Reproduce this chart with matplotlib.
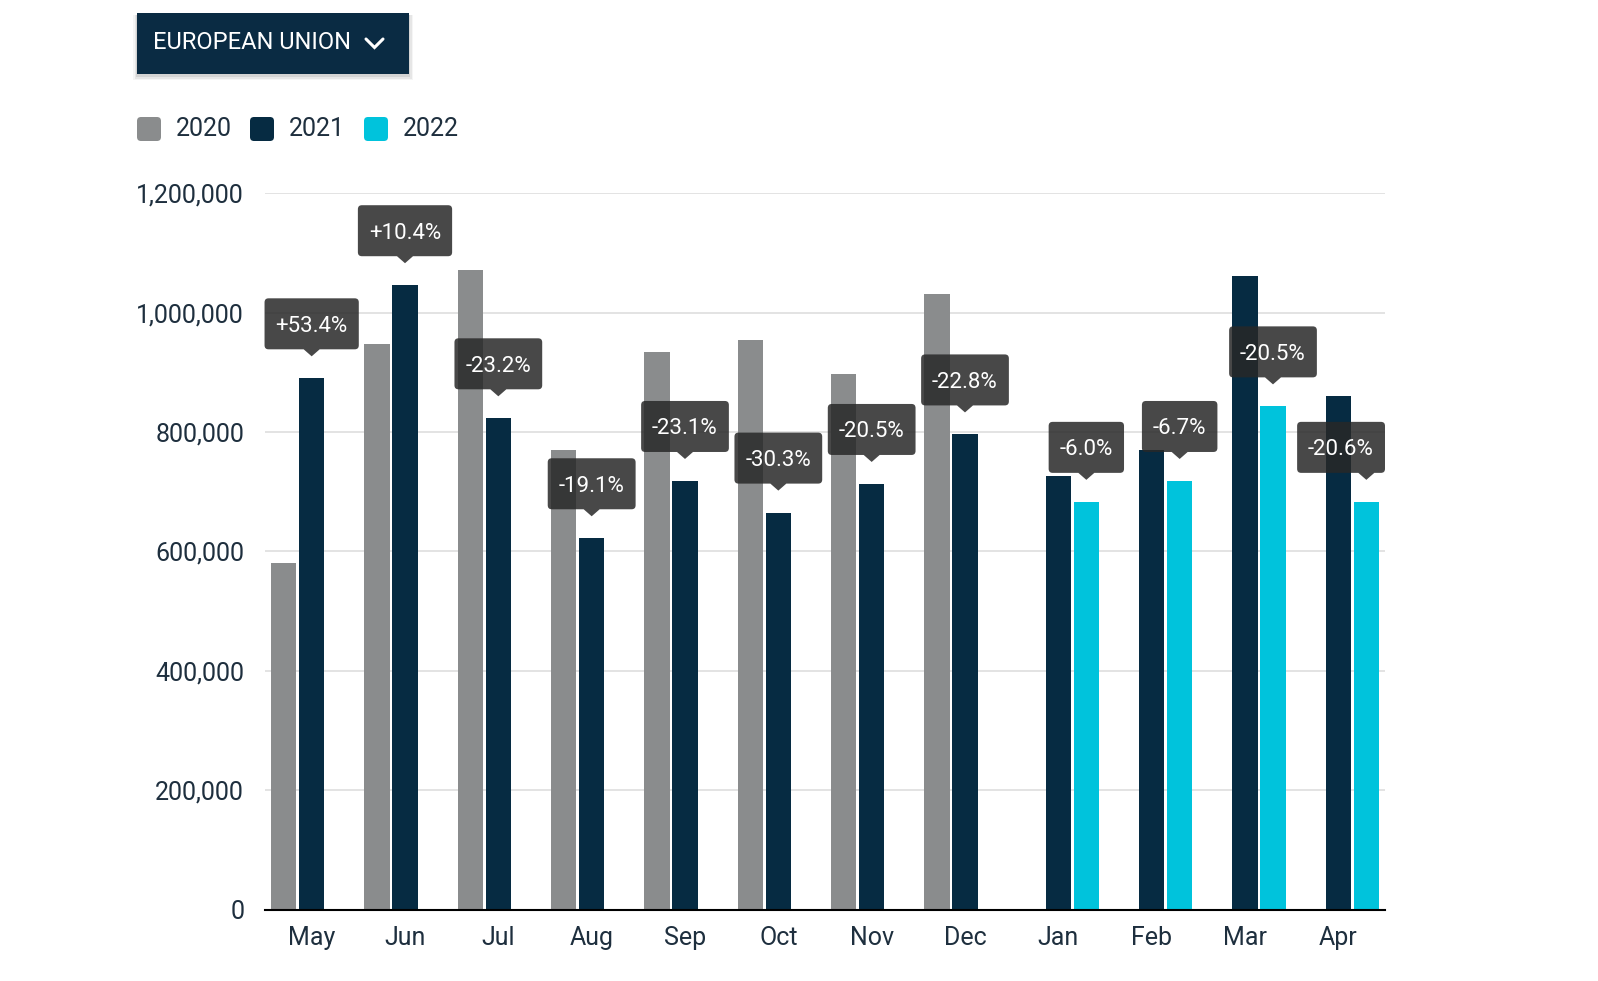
import numpy as np
import matplotlib.pyplot as plt
import matplotlib.transforms as mtransforms
from matplotlib.patches import FancyBboxPatch, PathPatch
from matplotlib.path import Path
from matplotlib.ticker import FuncFormatter

plt.rcParams['font.family'] = ['Roboto', 'DejaVu Sans']

months = ['May', 'Jun', 'Jul', 'Aug', 'Sep', 'Oct', 'Nov', 'Dec',
          'Jan', 'Feb', 'Mar', 'Apr']
years = ['2020', '2021', '2022']
nan = np.nan
sales_2020 = [580000, 948000, 1071000, 770000, 934000, 954000, 897000, 1031000,
              nan, nan, nan, nan]
sales_2021 = [890000, 1046000, 823000, 622000, 718000, 665000, 713000, 796000,
              727000, 770000, 1061000, 860000]
sales_2022 = [nan, nan, nan, nan, nan, nan, nan, nan,
              683000, 718000, 843000, 683000]
changes = ['+53.4%', '+10.4%', '-23.2%', '-19.1%', '-23.1%', '-30.3%',
           '-20.5%', '-22.8%', '-6.0%', '-6.7%', '-20.5%', '-20.6%']
region = 'EUROPEAN UNION'

colors = ['#8a8c8d', '#062b42', '#00c3dc']
text_col = '#1e2f3e'

fig = plt.figure(figsize=(15.98, 9.81), dpi=100)
ax = fig.add_axes([265 / 1598, 71.5 / 981, 1120 / 1598, 716.2 / 981])

x = np.arange(len(months))
off = 0.30
width = 0.268
series = [sales_2020, sales_2021, sales_2022]
for k, vals in enumerate(series):
    v = np.array(vals, dtype=float)
    m = ~np.isnan(v)
    ax.bar(x[m] + (k - 1) * off, v[m], width, color=colors[k], zorder=2)

ax.set_xlim(-0.5, len(months) - 0.5)
ax.set_ylim(0, 1200000)
ax.set_yticks(np.arange(0, 1200001, 200000))
ax.yaxis.set_major_formatter(FuncFormatter(lambda v, p: f'{v:,.0f}'))
ax.set_xticks(x)
ax.set_xticklabels(months)
ax.tick_params(axis='both', length=0, labelsize=18, labelcolor=text_col)
ax.tick_params(axis='x', pad=12)
ax.tick_params(axis='y', pad=15)
ax.yaxis.grid(True, color='#dedede', lw=1.2)
ax.set_axisbelow(True)
for s in ['top', 'left', 'right']:
    ax.spines[s].set_visible(False)
ax.spines['bottom'].set_color('black')
ax.spines['bottom'].set_linewidth(1.5)
ax.spines['bottom'].set_zorder(3)


def tooltip_path(x0, y0, w, h, r, cx, tw, th):
    # rounded box with a small pointer under it (display pixels, y up)
    x1, y1 = x0 + w, y0 + h
    verts = [(x0 + r, y0), (cx - tw / 2, y0), (cx, y0 - th), (cx + tw / 2, y0),
             (x1 - r, y0), (x1, y0), (x1, y0 + r), (x1, y1 - r), (x1, y1),
             (x1 - r, y1), (x0 + r, y1), (x0, y1), (x0, y1 - r), (x0, y0 + r),
             (x0, y0), (x0 + r, y0), (x0 + r, y0)]
    codes = [Path.MOVETO, Path.LINETO, Path.LINETO, Path.LINETO,
             Path.LINETO, Path.CURVE3, Path.CURVE3, Path.LINETO, Path.CURVE3,
             Path.CURVE3, Path.LINETO, Path.CURVE3, Path.CURVE3, Path.LINETO,
             Path.CURVE3, Path.CURVE3, Path.CLOSEPOLY]
    return Path(verts, codes)


# change labels
ident = mtransforms.IdentityTransform()
fs = 16
cap = 0.711 * fs / 0.72
box_h, gap, pad_x = 51, 29, 11
texts = []
for i, lab in enumerate(changes):
    if i < 8:
        bx, top = x[i], sales_2021[i]
    else:
        bx, top = x[i] + off, sales_2022[i]
    px_x, px_y = ax.transData.transform((bx, top))
    t = fig.text(px_x, px_y + gap + box_h / 2 - cap / 2, lab, transform=ident,
                 ha='center', va='baseline', color='white', fontsize=fs,
                 zorder=6)
    texts.append((t, px_x, px_y))

fig.canvas.draw()
renderer = fig.canvas.get_renderer()
x_right = ax.transAxes.transform((1, 0))[0]
for t, px_x, px_y in texts:
    bb = t.get_window_extent(renderer)
    w = bb.width + 2 * pad_x
    x0 = px_x - w / 2
    if x0 + w > x_right:
        x0 = x_right - w
        t.set_x(x0 + w / 2)
    p = tooltip_path(x0, px_y + gap, w, box_h, 4, px_x, 16, 7)
    fig.patches.append(PathPatch(p, fc='#282828', ec='none', alpha=0.85,
                                 transform=ident, zorder=5))

# dropdown button
T = fig.dpi_scale_trans
H = 9.81
for d, a in [(4, 0.04), (2.5, 0.06), (1, 0.08)]:
    fig.patches.append(FancyBboxPatch((1.37 - d / 100, H - 0.74 - d / 100 - 0.02),
                                      2.72 + 2 * d / 100, 0.61 + d / 100,
                                      boxstyle='square,pad=0', fc='black',
                                      ec='none', alpha=a, transform=T))
fig.patches.append(FancyBboxPatch((1.37, H - 0.74), 2.72, 0.61,
                                  boxstyle='square,pad=0', fc='#0a2b43',
                                  ec='none', transform=T))
fig.text(1.53, H - 0.425, region, transform=T, color='white', fontsize=17,
         va='center', ha='left')
fig.add_artist(plt.Line2D([3.66, 3.745, 3.83], [H - 0.39, H - 0.475, H - 0.39],
                          transform=T, color='white', lw=2.2,
                          solid_capstyle='round', solid_joinstyle='miter'))

# legend
leg_x = [1.37, 2.50, 3.64]
for k, yr in enumerate(years):
    fig.patches.append(FancyBboxPatch((leg_x[k], H - 1.41), 0.24, 0.24,
                                      boxstyle='round,pad=0,rounding_size=0.04',
                                      fc=colors[k], ec='none', transform=T))
    fig.text(leg_x[k] + 0.385, H - 1.29, yr, transform=T, color=text_col,
             fontsize=18, va='center', ha='left')

fig.savefig('out.png', dpi=100)
